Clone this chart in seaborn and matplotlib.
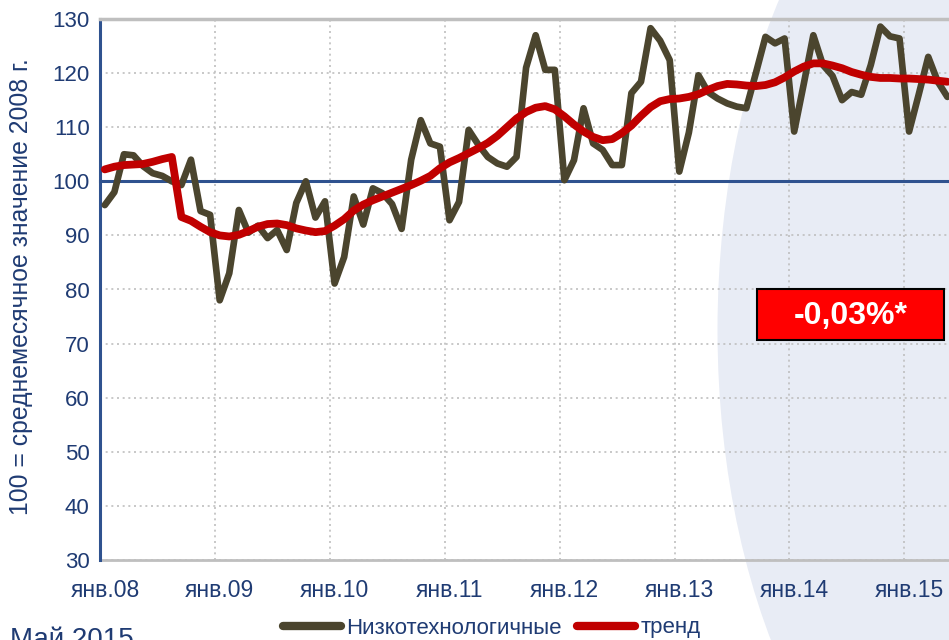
# ===============================
# Низкотехнологичные производства + тренд (янв.08 - май 15)
# ===============================
import numpy as np
import pandas as pd
import matplotlib
matplotlib.use("Agg")
import matplotlib.pyplot as plt
import matplotlib.transforms as mtransforms
import seaborn as sns
from matplotlib.patches import Ellipse, Rectangle
from matplotlib.lines import Line2D

# ===============================
# Données
# ===============================
year_labels = ["янв.08", "янв.09", "янв.10", "янв.11", "янв.12", "янв.13", "янв.14", "янв.15"]
y_ticks = [30, 40, 50, 60, 70, 80, 90, 100, 110, 120, 130]

low_tech = [95.6, 98.0, 105.0, 104.8, 102.8, 101.5, 101.0, 100.0, 99.3, 104.0, 94.5, 93.8,
            78.0, 83.0, 94.7, 90.5, 91.8, 89.5, 91.0, 87.3, 96.0, 100.0, 93.3, 96.3,
            81.1, 86.0, 97.2, 92.0, 98.7, 97.8, 95.8, 91.2, 104.0, 111.3, 107.0, 106.4,
            92.8, 96.2, 109.5, 106.8, 104.5, 103.3, 102.7, 104.5, 121.0, 127.0, 120.6, 120.6,
            100.2, 103.9, 113.5, 107.0, 105.8, 103.0, 103.0, 116.3, 118.4, 128.3, 126.0, 122.4,
            101.8, 109.0, 119.6, 116.5, 115.3, 114.4, 113.8, 113.5, 120.0, 126.7, 125.5, 126.4,
            109.2, 118.0, 127.0, 121.5, 119.5, 115.0, 116.5, 116.0, 121.5, 128.6, 126.8, 126.4,
            109.2, 116.0, 123.0, 118.4, 115.6]

trend = [102.2, 102.7, 103.0, 103.1, 103.2, 103.6, 104.1, 104.5, 93.4, 92.7, 91.6, 90.6,
         90.0, 89.8, 90.1, 90.8, 91.6, 92.1, 92.2, 91.9, 91.3, 90.9, 90.6, 90.8,
         91.8, 93.0, 94.6, 95.7, 96.5, 97.2, 97.9, 98.6, 99.3, 100.1, 101.0, 102.4,
         103.5, 104.3, 105.2, 106.1, 107.1, 108.4, 110.0, 111.6, 112.8, 113.6, 113.9, 113.3,
         112.0, 110.5, 109.2, 108.2, 107.6, 107.8, 108.9, 110.3, 112.1, 113.7, 114.8, 115.2,
         115.3, 115.6, 116.1, 116.9, 117.6, 118.0, 117.9, 117.7, 117.6, 117.8, 118.3, 119.2,
         120.3, 121.2, 121.8, 121.8, 121.4, 120.9, 120.2, 119.7, 119.3, 119.1, 119.1, 119.0,
         119.0, 118.9, 118.8, 118.6, 118.4]

# mois depuis le repère janv.08 (points au milieu du mois)
df = pd.DataFrame({"month": np.arange(len(low_tech)) + 0.5,
                   "low_tech": low_tech,
                   "trend": trend})

# ===============================
# Style
# ===============================
sns.set_style("white")
plt.rcParams['font.family'] = ['Liberation Sans', 'DejaVu Sans']

navy = "#1F3B73"
axis_blue = "#2F528F"
grid_grey = "#BFBFBF"
dark_line = "#4B452E"
red_line = "#C00000"

fig = plt.figure(figsize=(9.49, 6.4), dpi=100)

# fond : grand ovale bleu pâle à droite (coordonnées en pixels)
oval = Ellipse((1000, 640 - 330), width=565, height=1060,
               transform=mtransforms.IdentityTransform(),
               facecolor="#E8ECF5", edgecolor="none", zorder=-5)
fig.patches.append(oval)

ax = fig.add_axes([100 / 949, 1 - 560 / 640, 849 / 949, 541 / 640])
ax.patch.set_alpha(0)

# ===============================
# Courbes
# ===============================
sns.lineplot(data=df, x="month", y="low_tech", ax=ax, color=dark_line, lw=4.8, zorder=3)
sns.lineplot(data=df, x="month", y="trend", ax=ax, color=red_line, lw=5.6, zorder=4)

ax.set_xlim(0, 849 / 9.575)
ax.set_ylim(30, 130)
ax.set_yticks(y_ticks)
ax.set_xticks(np.arange(0, 12 * len(year_labels), 12))
ax.set_xticklabels([])
ax.set_xlabel("")
ax.set_ylabel("100 = среднемесячное значение 2008 г.", color=navy, fontsize=17.8)
ax.yaxis.set_label_coords(-0.079, 0.505)

ax.grid(True, color=grid_grey, linestyle=(0, (1.2, 2.2)), lw=1.2)

# axe horizontal à 100
ax.spines['bottom'].set_position(('data', 100))
ax.spines['bottom'].set_color(axis_blue)
ax.spines['bottom'].set_linewidth(2.2)
ax.spines['bottom'].set_zorder(2)
ax.spines['left'].set_color(axis_blue)
ax.spines['left'].set_linewidth(2.2)
ax.spines['top'].set_color(grid_grey)
ax.spines['top'].set_linewidth(2.5)
ax.spines['right'].set_visible(False)
ax.tick_params(axis='both', direction='inout', length=12, width=2.2, color=axis_blue)
ax.tick_params(axis='y', labelcolor=navy, labelsize=16, pad=1.5)

# étiquettes des années en bas (légèrement décalées à droite comme dans Excel)
sec = ax.secondary_xaxis('bottom')
sec.set_xticks(np.arange(0, 12 * len(year_labels), 12), labels=year_labels)
sec.tick_params(length=0, pad=14, labelcolor=navy, labelsize=16.5)
sec.spines['bottom'].set_color(grid_grey)
sec.spines['bottom'].set_linewidth(2)
shift = mtransforms.ScaledTranslation(5 / 100, 0, fig.dpi_scale_trans)
for lab in sec.get_xticklabels():
    lab.set_transform(lab.get_transform() + shift)

# ===============================
# Encadré rouge
# ===============================
box = Rectangle((757 / 949, 1 - 340 / 640), 187 / 949, 51 / 640, transform=fig.transFigure,
                facecolor="#FF0000", edgecolor="black", lw=1.5, zorder=5)
fig.patches.append(box)
fig.text(851 / 949, 1 - 316 / 640, "-0,03%*", color="white", fontsize=23, fontweight="bold",
         ha="center", va="center", zorder=6)

# ===============================
# Légende + date
# ===============================
handles = [Line2D([], [], color=dark_line, lw=6), Line2D([], [], color=red_line, lw=6)]
leg = fig.legend(handles, ["Низкотехнологичные", "тренд"], loc="center",
                 bbox_to_anchor=(492 / 949, 1 - 628 / 640), ncol=2, frameon=False,
                 fontsize=16, handlelength=2.6, handletextpad=0.25, columnspacing=0.7,
                 borderpad=0)
for t in leg.get_texts():
    t.set_color(navy)

fig.text(10 / 949, 1 - 627 / 640, "Май 2015", color=navy, fontsize=20, ha="left", va="top")

plt.savefig("out.png", dpi=100)
plt.close()
